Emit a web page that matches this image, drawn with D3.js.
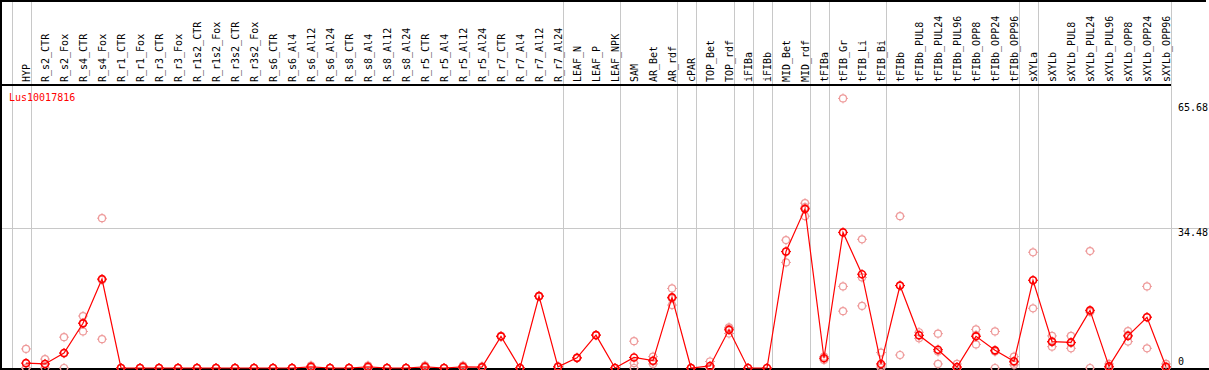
<!DOCTYPE html>
<html>
<head>
<meta charset="utf-8">
<script src="https://cdn.jsdelivr.net/npm/d3@7"></script>
<style>
  html, body { margin: 0; padding: 0; background: #fff; }
  svg { display: block; }
  text { font-family: "DejaVu Sans Mono", monospace; font-size: 10px; }
</style>
</head>
<body>
<svg id="chart" width="1209" height="370"></svg>
<script>
// sample names, left to right
const samples = [
  'HYP', 'R_s2_CTR', 'R_s2_Fox', 'R_s4_CTR', 'R_s4_Fox', 'R_r1_CTR', 'R_r1_Fox',
  'R_r3_CTR', 'R_r3_Fox', 'R_r1s2_CTR', 'R_r1s2_Fox', 'R_r3s2_CTR', 'R_r3s2_Fox',
  'R_s6_CTR', 'R_s6_Al4', 'R_s6_Al12', 'R_s6_Al24', 'R_s8_CTR', 'R_s8_Al4',
  'R_s8_Al12', 'R_s8_Al24', 'R_r5_CTR', 'R_r5_Al4', 'R_r5_Al12', 'R_r5_Al24',
  'R_r7_CTR', 'R_r7_Al4', 'R_r7_Al12', 'R_r7_Al24', 'LEAF_N', 'LEAF_P', 'LEAF_NPK',
  'SAM', 'AR_Bet', 'AR_rdf', 'cPAR', 'TOP_Bet', 'TOP_rdf', 'iFIBa', 'iFIBb',
  'MID_Bet', 'MID_rdf', 'tFIBa', 'tFIB_Gr', 'tFIB_Li', 'tFIB_Bi', 'tFIBb',
  'tFIBb_PUL8', 'tFIBb_PUL24', 'tFIBb_PUL96', 'tFIBb_OPP8', 'tFIBb_OPP24', 'tFIBb_OPP96',
  'sXYLa', 'sXYLb', 'sXYLb_PUL8', 'sXYLb_PUL24', 'sXYLb_PUL96', 'sXYLb_OPP8',
  'sXYLb_OPP24', 'sXYLb_OPP96'
];

// mean expression per sample
const meanValues = [
  1.2, 1.0, 3.7, 11.0, 21.9, 0, 0,
  0, 0, 0, 0, 0, 0,
  0, 0, 0.3, 0, 0, 0.3,
  0, 0, 0.3, 0, 0.3, 0.2,
  7.8, 0, 17.7, 0.3, 2.5, 8.1, 0,
  2.6, 1.8, 17.4, 0, 0.5, 9.4, 0, 0,
  28.7, 39.2, 2.4, 33.4, 23.1, 1.0, 20.3,
  8.05, 4.5, 0.25, 7.8, 4.35, 1.65,
  21.6, 6.5, 6.3, 14.2, 0.4, 7.9,
  12.5, 0.3
];

// individual replicates per sample
const replicates = [
  [4.7, 0, 0], [2.2, 0, 1.0], [7.6, 0, 3.6], [12.8, 9.0, 11.1], [36.9, 7.1, 21.7], [0, 0, 0], [0, 0, 0],
  [0, 0, 0], [0, 0, 0], [0, 0, 0], [0, 0, 0], [0, 0, 0], [0, 0, 0],
  [0, 0, 0], [0, 0, 0], [0.6, 0.3, 0], [0, 0, 0], [0, 0, 0], [0.6, 0.3, 0],
  [0, 0, 0], [0, 0, 0], [0.6, 0.3, 0], [0, 0, 0], [0.6, 0.3, 0], [0.4, 0.2, 0],
  [7.9, 7.7], [0, 0], [17.8, 17.6], [0.4, 0.2], [2.5, 2.5], [8.1, 8.1], [0, 0],
  [6.6, 1.2, 0], [2.8, 1.0, 1.6], [19.6, 15.5, 17.1], [0, 0], [1.6, 0, 0], [10.0, 8.5, 9.7], [0], [0],
  [31.5, 26.0, 28.6], [40.6, 37.4, 39.6], [2.0, 2.8], [66.4, 20.1, 14.0], [31.7, 22.3, 15.3], [3.8, 0.5, 0], [37.4, 3.2, 20.3],
  [8.8, 7.3, 8.0], [8.45, 1.0, 4.05], [1.0, 0, 0], [9.5, 5.8, 8.1], [9.0, 0, 4.05], [2.8, 0.8, 1.35],
  [28.5, 14.7, 21.6], [7.9, 5.25, 6.35], [7.9, 4.85, 6.2], [28.8, 0, 13.8], [1.0, 0, 0.2], [9.1, 6.5, 8.1],
  [20.1, 4.85, 12.55], [1.0, 0, 0]
];

// group boundaries drawn after these sample indexes (-1 = before the first)
const groupBreaks = [-1, 0, 28, 31, 34, 35, 37, 38, 39, 41, 42, 45, 52, 53, 60];

const geneName = 'Lus10017816';
const yMax = 68.96;
const yTicks = [0, 34.48, 65.68];

let
  svg = d3.select('#chart'),
  width = +svg.attr('width'),
  height = +svg.attr('height'),
  headerH = 85,
  xScale = d3.scalePoint().domain(d3.range(samples.length)).range([26, 1166]),
  yScale = d3.scaleLinear().domain([0, yMax]).range([368, 88]),
  gridColor = '#c8c8c8',
  mainColor = '#ff0000',
  repColor = '#ee9a9a'
  ;

const breakX = d => Math.round(xScale(Math.max(d, 0)) + (d < 0 ? -19 : 0) + 4.7) + 0.5;

// gray group separators, full height
svg.append('g')
  .selectAll('line')
  .data(groupBreaks)
  .join('line')
    .attr('x1', breakX)
    .attr('x2', breakX)
    .attr('y1', 0)
    .attr('y2', 369)
    .attr('stroke', gridColor)
    .attr('shape-rendering', 'crispEdges')
;

// horizontal grid at the middle tick
svg.append('line')
  .attr('x1', 0).attr('x2', width)
  .attr('y1', Math.round(yScale(yTicks[1])) + 0.5)
  .attr('y2', Math.round(yScale(yTicks[1])) + 0.5)
  .attr('stroke', gridColor)
  .attr('shape-rendering', 'crispEdges')
;

// frame lines
const frame = svg.append('g')
  .attr('stroke', '#000')
  .attr('stroke-width', 1.5)
  .attr('shape-rendering', 'crispEdges')
  ;
frame.append('line').attr('x1', 0).attr('x2', 1206).attr('y1', 0.75).attr('y2', 0.75);
frame.append('line').attr('x1', 0.75).attr('x2', 0.75).attr('y1', 0).attr('y2', height);
frame.append('line').attr('x1', 0).attr('x2', 1171).attr('y1', headerH).attr('y2', headerH);
frame.append('line').attr('x1', 0).attr('x2', width).attr('y1', 369).attr('y2', 369);

// rotated sample names in the header
svg.append('g')
  .selectAll('text')
  .data(samples)
  .join('text')
    .attr('transform', (d, i) => `translate(${xScale(i) + 3.5},82) rotate(-90)`)
    .attr('fill', '#000')
    .text(d => d)
;

// right side value labels
svg.append('text')
  .attr('x', 1178).attr('y', yScale(yTicks[2]) + 10)
  .attr('fill', '#000')
  .text(yTicks[2].toFixed(2));
svg.append('text')
  .attr('x', 1178).attr('y', yScale(yTicks[1]) + 8)
  .attr('fill', '#000')
  .text(yTicks[1].toFixed(2));
svg.append('text')
  .attr('x', 1178).attr('y', 365)
  .attr('fill', '#000')
  .text(yTicks[0]);

// gene name
svg.append('text')
  .attr('x', 9).attr('y', 101)
  .attr('fill', mainColor)
  .text(geneName);

// target-like marker: ring plus four little ticks
const marker = (sel, color, sw) => {
  sel.append('circle')
    .attr('r', 3.5)
    .attr('fill', 'none')
    .attr('stroke', color)
    .attr('stroke-width', sw);
  sel.append('path')
    .attr('d', 'M0,-5V-3.5M0,3.5V5M-5,0H-3.5M3.5,0H5')
    .attr('stroke', color)
    .attr('stroke-width', 1);
};

// replicate points
const repPoints = replicates.flatMap((reps, i) => reps.map(v => ({i, v})));
svg.append('g')
  .selectAll('g')
  .data(repPoints)
  .join('g')
    .attr('transform', d => `translate(${xScale(d.i)},${yScale(d.v)})`)
    .each((d, i, t) => marker(d3.select(t[i]), repColor, 1.2))
;

// mean line
svg.append('path')
  .datum(meanValues)
  .attr('fill', 'none')
  .attr('stroke', mainColor)
  .attr('stroke-width', 1.2)
  .attr('d', d3.line().x((d, i) => xScale(i)).y(d => yScale(d)))
;

svg.append('g')
  .selectAll('g')
  .data(meanValues)
  .join('g')
    .attr('transform', (d, i) => `translate(${xScale(i)},${yScale(d)})`)
    .each((d, i, t) => marker(d3.select(t[i]), mainColor, 1.6))
;
</script>
</body>
</html>
